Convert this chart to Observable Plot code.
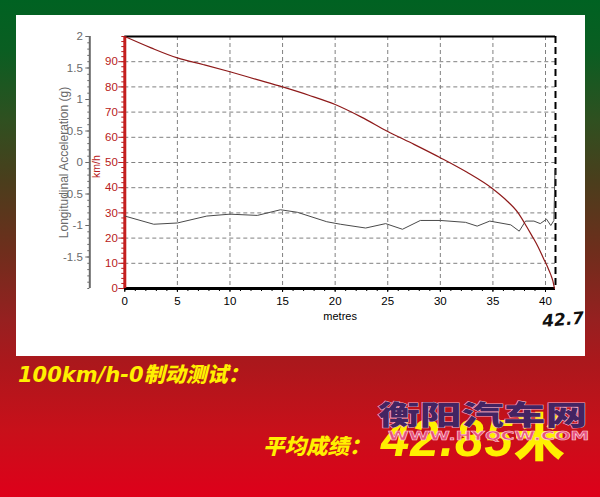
<!DOCTYPE html>
<html><head><meta charset="utf-8">
<script src="https://cdn.jsdelivr.net/npm/d3@7"></script>
<script src="https://cdn.jsdelivr.net/npm/@observablehq/plot@0.6"></script>
<style>
html,body{margin:0;padding:0;}
#page{position:relative;width:600px;height:497px;overflow:hidden;
 background:linear-gradient(to bottom,#006222 0px,#0a5e22 50px,#2f5020 120px,#4a3e1c 180px,#6e2e1c 250px,#962020 320px,#aa181c 360px,#c8101a 430px,#de001a 497px);
 font-family:"Liberation Sans",Arial,sans-serif;}
#panel{position:absolute;left:16px;top:15px;width:569px;height:341px;background:#fff;}
#panel svg{position:absolute;left:0;top:0;}
.t{position:absolute;white-space:nowrap;line-height:1;}
#title{left:18px;top:358px;font:italic bold 21px "DejaVu Sans","Noto Sans CJK SC",sans-serif;color:#fff000;}
#title .cjk{font-family:"Noto Sans CJK SC";font-weight:900;}
#avgLabel{left:263px;top:429px;font:italic 900 21.5px "Noto Sans CJK SC",sans-serif;color:#fff000;}
#avgVal{left:381px;top:397px;font:italic bold 51px "Liberation Sans","Noto Sans CJK SC",sans-serif;color:#fff000;letter-spacing:1px;}
#avgVal .cjk{font-family:"Noto Sans CJK SC";font-weight:900;font-style:normal;}
#wm{left:378px;top:394px;font:900 27px "Noto Sans CJK SC",sans-serif;color:#432462;transform-origin:0 0;transform:scale(1.55,1);-webkit-text-stroke:1px #f0a8c4;paint-order:stroke fill;}
#wmurl{left:388px;top:428px;font:bold 12.5px "DejaVu Sans",sans-serif;color:#e8507c;transform-origin:0 0;transform:scale(1.5,1);-webkit-text-stroke:0.5px #fbd0dc;z-index:2;}
#mark{left:543px;top:311px;font:italic bold 17px "DejaVu Sans",sans-serif;color:#111;transform:rotate(-5deg);transform-origin:0 100%;}
</style></head>
<body>
<div id="page">
 <div id="panel"></div>
 <div class="t" id="mark">42.7</div>
 <div class="t" id="title">100km/h-0<span class="cjk">制动测试：</span></div>
 <div class="t" id="avgLabel">平均成绩：</div>
 <div class="t" id="avgVal">42.85<span class="cjk">米</span></div>
 <div class="t" id="wm">衡阳汽车网</div>
 <div class="t" id="wmurl">WWW.HYQCW.COM</div>
</div>
<script>
// ---- data ----
const xDomain = [0, 40.95];
const speedDomain = [0, 100];
const gDomain = [-2, 2];

const speedDistance = [0, 2.5, 5, 7.5, 10, 12.5, 15, 17.5, 20, 22.5, 25, 27.5, 30, 32.5, 35, 36.2, 37.4, 38, 38.7, 39.3, 39.8, 40.2, 40.5, 40.7, 40.85];
const speedKmh      = [100, 95.5, 91.5, 88.8, 86, 83, 80, 76.7, 73, 68, 62.3, 57.2, 51.9, 46.2, 39.5, 35.3, 30, 26, 21, 16.5, 12, 8.5, 5.5, 3, 0];

const accDistance = [0, 2.75, 5, 7.8, 10, 12.6, 14.8, 16.4, 19.2, 20.5, 22.9, 24.8, 26.4, 28.1, 30, 32.4, 33.5, 34.7, 36.7, 37.5, 38.1, 38.9, 39.5, 40.1, 40.5, 40.8, 40.9];
const accG        = [-0.85, -0.98, -0.96, -0.85, -0.82, -0.84, -0.75, -0.79, -0.94, -0.98, -1.04, -0.97, -1.06, -0.92, -0.92, -0.95, -1.01, -0.93, -0.99, -1.09, -0.93, -0.93, -0.97, -0.90, -1.0, -0.92, -0.12];

const xTicks = [0, 5, 10, 15, 20, 25, 30, 35, 40];
const xMinorTicks = d3.range(0, 41, 1);
const speedTicks = [0, 10, 20, 30, 40, 50, 60, 70, 80, 90];
const speedMinorTicks = d3.range(0, 101, 2);
const gTicks = [2, 1.5, 1, 0.5, 0, -0.5, -1, -1.5];
const gMinorTicks = d3.range(-20, 21).map(i => i / 10);

// map g onto the km/h scale (secondary axis)
const gToY = d3.scaleLinear().domain(gDomain).range(speedDomain);

const speedData = speedDistance.map((d, i) => ({x: d, v: speedKmh[i]}));
const accData = accDistance.map((d, i) => ({x: d, g: accG[i]}));

const grid = {stroke: "#808080", strokeOpacity: 1, strokeDasharray: "4,3"};
const red = "#b82020";
const grey = "#6a6a6a";

const chart = Plot.plot({
  width: 569, height: 341,
  marginLeft: 108.3, marginRight: 30, marginTop: 21, marginBottom: 68,
  x: {domain: xDomain},
  y: {domain: speedDomain},
  style: {background: "transparent", fontFamily: "'Liberation Sans', Arial, sans-serif", fontSize: "11px", overflow: "visible"},
  marks: [
    Plot.gridX(xTicks.filter(d => d > 0), grid),
    Plot.gridY(speedTicks.filter(d => d > 0), grid),
    // x axis
    Plot.axisX(xMinorTicks, {tickSize: 3, tickFormat: () => "", color: "#000", label: null}),
    Plot.axisX(xTicks, {tickSize: 4, tickPadding: 4, color: "#000", fontSize: 11.5, label: null}),
    Plot.text(["metres"], {frameAnchor: "bottom", dy: 28, lineAnchor: "middle", textAnchor: "middle", fontSize: 11, fill: "#000"}),
    // km/h axis
    Plot.axisY(speedMinorTicks, {anchor: "left", tickSize: 3, tickFormat: () => "", color: red, label: null}),
    Plot.axisY(speedTicks, {anchor: "left", tickSize: 6, tickPadding: 1, color: red, fontSize: 11.5, label: null}),
    Plot.text(["km/h"], {frameAnchor: "left", dx: -28.5, dy: 4, rotate: -90, textAnchor: "middle", lineAnchor: "middle", fill: red, fontSize: 10.5}),
    // g axis
    Plot.ruleX([xDomain[0]], {dx: -35, stroke: grey, strokeWidth: 2}),
    Plot.axisY(gMinorTicks.map(gToY), {anchor: "left", dx: -35, tickSize: 2, tickFormat: () => "", color: grey, label: null}),
    Plot.axisY(gTicks.map(gToY), {anchor: "left", dx: -35, tickSize: 4, tickPadding: 3, color: grey, fontSize: 11.5, label: null,
      tickFormat: v => String(+gToY.invert(v).toFixed(1))}),
    Plot.text(["Longitudinal Acceleration (g)"], {frameAnchor: "left", dx: -61, rotate: -90, textAnchor: "middle", lineAnchor: "middle", fill: grey, fontSize: 12}),
    // frame lines
    Plot.ruleY([speedDomain[1]], {stroke: "#000", strokeWidth: 2}),
    Plot.ruleX([xDomain[1]], {stroke: "#000", strokeWidth: 2, strokeDasharray: "7,4"}),
    Plot.ruleY([speedDomain[0]], {stroke: "#000", strokeWidth: 3}),
    Plot.ruleX([xDomain[0]], {stroke: "#c41e1e", strokeWidth: 3}),
    // data
    Plot.line(accData, {x: "x", y: d => gToY(d.g), stroke: "#4a4a4a", strokeWidth: 1}),
    Plot.line(speedData, {x: "x", y: "v", stroke: "#8e1a1a", strokeWidth: 1.2, curve: "monotone-x"})
  ]
});
document.getElementById("panel").appendChild(chart);
</script>
</body></html>
